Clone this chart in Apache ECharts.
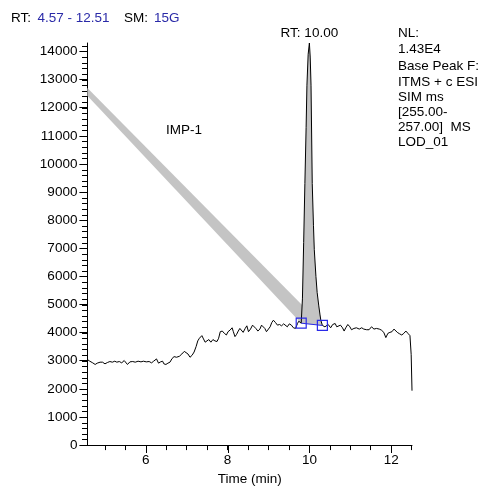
<!DOCTYPE html>
<html>
<head>
<meta charset="utf-8">
<script src="https://cdn.jsdelivr.net/npm/echarts@6/dist/echarts.min.js"></script>
<style>
html,body{margin:0;padding:0;background:#fff;}
#chart{width:498px;height:491px;}
</style>
</head>
<body>
<div id="chart"></div>
<script>
// ---- data ----
const traceTime = [4.57,4.63,4.70,4.76,4.81,4.88,4.94,5.00,5.06,5.12,5.18,5.24,5.29,5.35,5.41,5.47,5.49,5.55,5.61,5.68,5.74,5.81,5.88,5.94,6.01,6.08,6.14,6.19,6.26,6.31,6.36,6.41,6.44,6.49,6.54,6.59,6.64,6.69,6.75,6.82,6.88,6.94,6.98,7.03,7.08,7.13,7.18,7.23,7.27,7.31,7.37,7.41,7.45,7.49,7.54,7.59,7.64,7.69,7.74,7.78,7.82,7.87,7.92,7.97,8.01,8.06,8.11,8.14,8.18,8.22,8.26,8.30,8.34,8.38,8.43,8.47,8.51,8.56,8.61,8.64,8.69,8.74,8.79,8.83,8.87,8.91,8.95,8.99,9.04,9.08,9.12,9.17,9.22,9.27,9.32,9.37,9.41,9.46,9.51,9.56,9.61,9.66,9.71,9.74,9.77,
  9.80,9.83,9.86,9.89,9.92,9.94,9.97,10.00,10.02,10.04,10.07,10.10,10.12,10.16,10.19,10.23,10.26,10.28,10.318,
  10.38,10.46,10.52,10.57,10.63,10.67,10.71,10.76,10.81,10.85,10.89,10.94,10.99,11.03,11.09,11.15,11.22,11.28,11.33,11.40,11.46,11.52,11.58,11.64,11.71,11.76,11.82,11.87,11.92,11.97,12.02,12.07,12.10,12.15,12.20,12.26,12.31,12.36,12.41,12.46,12.49,12.51];
const traceIntensity = [3042,2983,2925,2867,2914,2949,2949,2890,2937,2972,2949,2984,2949,2972,2925,3007,3065,2867,2960,2972,2949,2984,2960,2984,2960,2972,2925,2984,3065,2914,2960,2984,2890,2867,2914,2949,3077,3147,3124,3159,3240,3333,3380,3240,3124,3193,3310,3508,3706,3800,3893,3776,3660,3706,3753,3660,3753,3706,3683,3800,4033,4056,3974,3916,4033,4091,4172,4033,3858,3939,4056,4149,4207,4009,4149,4242,4033,4126,4266,4324,4149,4056,4126,4266,4324,4149,4033,4033,4207,4359,4441,4359,4266,4289,4242,4312,4266,4207,4312,4266,4172,4149,4324,4406,4359,
  4336,5200,7200,9300,11300,12800,13900,14300,13800,12800,9300,7800,6950,6000,5430,4950,4630,4440,4255,
  4207,4289,4172,4289,4324,4207,4149,4266,4172,4056,4172,4289,4207,4103,4149,4172,4126,4172,4126,4103,4103,4207,4126,4149,4126,4091,4009,3823,3974,4009,4033,4126,4149,4009,3963,3916,3974,4056,3974,3893,3217,1935];

// integrated peak (RT 10.00): start / end markers
const peakStartTime = 9.80, peakEndTime = 10.318;
const baseTime = [9.80, 10.318];
const baseIntensity = [4336, 4255];

// stray integration band (top-left to peak base)
const bandTime = [4.57, 10.318, 9.80, 4.57];
const bandIntensity = [12700, 4255, 4336, 12420];

const xMajorLabels = [6, 8, 10, 12];
const xTicks = [5,5.5,6,6.5,7,7.5,8,8.5,9,9.5,10,10.5,11,11.5,12,12.5];
const yLabels = [0,1000,2000,3000,4000,5000,6000,7000,8000,9000,10000,11000,12000,13000,14000];
const yMinorTicks = [];
for (let v = 0; v <= 14200; v += 200) yMinorTicks.push(v);

const apexTime = 10.00, apexIntensity = 14300;
const X_MIN = 4.57, X_MAX = 12.51, Y_MIN = 0, Y_MAX = 14300;

// ---- chart ----
const FONT = 'Liberation Sans, Arial, sans-serif';
const FS = 13.5;
const chart = echarts.init(document.getElementById('chart'), null, {renderer: 'canvas'});

const tracePairs = traceTime.map((t, i) => [t, traceIntensity[i]]);
const peakPoly = [];
traceTime.forEach((t, i) => { if (t >= peakStartTime - 1e-9 && t <= peakEndTime + 1e-9) peakPoly.push([t, traceIntensity[i]]); });

function tickSeries(data, horizontal, len) {
  return {
    type: 'custom', xAxisIndex: 0, yAxisIndex: 0, clip: false, silent: true, z: 6,
    data: data,
    renderItem: (params, api) => {
      const c = api.coord([api.value(0), api.value(1)]);
      if (horizontal) {
        const y = Math.round(c[1]) + 0.5;
        const x = Math.round(c[0]);
        return {type: 'line', shape: {x1: x - len, y1: y, x2: x, y2: y}, style: {stroke: '#000', lineWidth: 1}};
      }
      const x = Math.round(c[0]) + 0.5;
      const y = Math.round(c[1]);
      return {type: 'line', shape: {x1: x, y1: y, x2: x, y2: y + len}, style: {stroke: '#000', lineWidth: 1}};
    }
  };
}

chart.setOption({
  animation: false,
  backgroundColor: '#fff',
  grid: {left: 87.4, right: 86, top: 43, bottom: 39.5, containLabel: false},
  xAxis: {
    type: 'value', min: X_MIN, max: X_MAX, splitLine: {show: false},
    axisLine: {show: true, lineStyle: {color: '#000', width: 1}},
    axisTick: {show: true, customValues: xTicks, length: 5, lineStyle: {color: '#000'}},
    axisLabel: {customValues: xMajorLabels, color: '#000', fontSize: FS, fontFamily: FONT, margin: 8},
    name: 'Time (min)', nameLocation: 'middle', nameGap: 23,
    nameTextStyle: {color: '#000', fontSize: FS, fontFamily: FONT}
  },
  yAxis: {
    type: 'value', min: Y_MIN, max: Y_MAX, splitLine: {show: false},
    axisLine: {show: true, lineStyle: {color: '#000', width: 1}},
    axisTick: {show: true, customValues: yLabels, length: 8, lineStyle: {color: '#000'}},
    axisLabel: {customValues: yLabels, color: '#000', fontSize: FS, fontFamily: FONT, margin: 10,
      formatter: v => String(v)}
  },
  series: [
    {
      type: 'custom', xAxisIndex: 0, yAxisIndex: 0, clip: true, silent: true, z: 1,
      data: [[7, 7000]],
      renderItem: (params, api) => {
        const pts = bandTime.map((t, i) => api.coord([t, bandIntensity[i]]));
        return {type: 'polygon', shape: {points: pts}, style: {fill: '#c4c4c4'}};
      }
    },
    {
      type: 'custom', xAxisIndex: 0, yAxisIndex: 0, clip: true, silent: true, z: 2,
      data: [[10, 7000]],
      renderItem: (params, api) => {
        const pts = peakPoly.map(p => api.coord(p));
        return {type: 'polygon', shape: {points: pts}, style: {fill: '#c4c4c4'}};
      }
    },
    {
      type: 'line', xAxisIndex: 0, yAxisIndex: 0, data: tracePairs, showSymbol: false, symbol: 'none',
      lineStyle: {color: '#000', width: 1}, clip: true, z: 3, silent: true
    },
    {
      type: 'line', xAxisIndex: 0, yAxisIndex: 0,
      data: baseTime.map((t, i) => [t, baseIntensity[i]]),
      symbol: 'rect', symbolSize: 10, showSymbol: true,
      itemStyle: {color: 'rgba(0,0,0,0)', borderColor: '#2a2ae8', borderWidth: 1.2},
      lineStyle: {color: '#2a2ae8', width: 1}, z: 4, silent: true
    },
    {
      type: 'custom', xAxisIndex: 0, yAxisIndex: 0, clip: false, silent: true, z: 7,
      data: [[apexTime, apexIntensity]],
      renderItem: (params, api) => {
        const c = api.coord([api.value(0), api.value(1)]);
        return {type: 'text', x: c[0], y: c[1] - 3,
          style: {text: 'RT: 10.00', fill: '#000', font: FS + 'px ' + FONT, align: 'center', verticalAlign: 'bottom'}};
      }
    },
    tickSeries(yMinorTicks.map(v => [X_MIN, v]), true, 5),
    tickSeries(xMajorLabels.map(t => [t, Y_MIN]), false, 8)
  ],
  graphic: [
    {type: 'text', left: 11, top: 11, style: {text: 'RT:', fill: '#000', font: FS + 'px ' + FONT}},
    {type: 'text', left: 37.5, top: 11, style: {text: '4.57 - 12.51', fill: '#2a2aa8', font: FS + 'px ' + FONT}},
    {type: 'text', left: 124, top: 11, style: {text: 'SM:', fill: '#000', font: FS + 'px ' + FONT}},
    {type: 'text', left: 154, top: 11, style: {text: '15G', fill: '#2a2aa8', font: FS + 'px ' + FONT}},
    {type: 'text', left: 166, top: 123, style: {text: 'IMP-1', fill: '#000', font: FS + 'px ' + FONT}},
    {type: 'text', left: 398, top: 26, style: {text: 'NL:\n1.43E4', fill: '#000', font: FS + 'px ' + FONT, lineHeight: 15.5}},
    {type: 'text', left: 398, top: 59, style: {text: 'Base Peak F:\nITMS + c ESI\nSIM ms\n[255.00-\n257.00]  MS\nLOD_01', fill: '#000', font: FS + 'px ' + FONT, lineHeight: 15.2}}
  ]
});
</script>
</body>
</html>
